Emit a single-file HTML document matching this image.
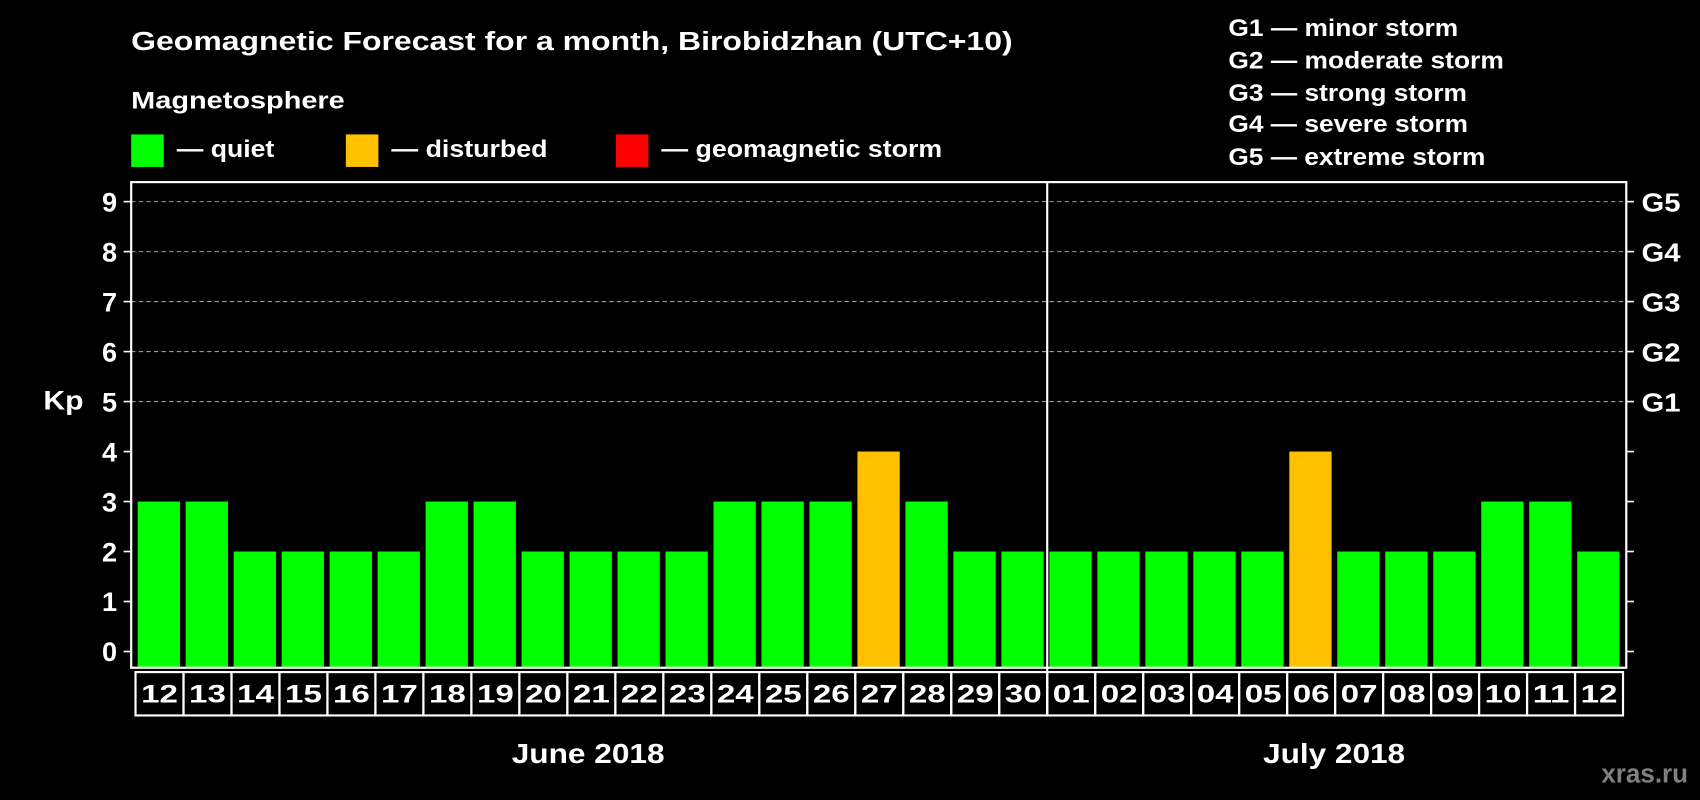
<!DOCTYPE html>
<html><head><meta charset="utf-8"><style>
html,body{margin:0;padding:0;background:#000;}
svg{display:block;}
text{font-family:"Liberation Sans",Arial,sans-serif;font-weight:bold;fill:#fff;}
</style></head><body>
<svg id="chart" width="1700" height="800" viewBox="0 0 1568 738" preserveAspectRatio="none" xmlns="http://www.w3.org/2000/svg">
<rect x="0" y="0" width="1568" height="738" fill="#000"/>
<text x="121" y="46" font-size="24" textLength="813" lengthAdjust="spacingAndGlyphs">Geomagnetic Forecast for a month, Birobidzhan (UTC+10)</text>
<text x="121" y="100" font-size="22" textLength="197" lengthAdjust="spacingAndGlyphs">Magnetosphere</text>
<g><rect x="121" y="124" width="30" height="30" fill="#00ff00"/><text x="163" y="145" font-size="22" textLength="90" lengthAdjust="spacingAndGlyphs">— quiet</text></g>
<g><rect x="319" y="124" width="30" height="30" fill="#ffc000"/><text x="361" y="145" font-size="22" textLength="144" lengthAdjust="spacingAndGlyphs">— disturbed</text></g>
<g><rect x="568" y="124" width="30" height="30" fill="#ff0000"/><text x="610" y="145" font-size="22" textLength="259" lengthAdjust="spacingAndGlyphs">— geomagnetic storm</text></g>
<g font-size="22">
<text x="1133" y="33" textLength="212" lengthAdjust="spacingAndGlyphs">G1 — minor storm</text>
<text x="1133" y="63" textLength="254" lengthAdjust="spacingAndGlyphs">G2 — moderate storm</text>
<text x="1133" y="93" textLength="220" lengthAdjust="spacingAndGlyphs">G3 — strong storm</text>
<text x="1133" y="122" textLength="221" lengthAdjust="spacingAndGlyphs">G4 — severe storm</text>
<text x="1133" y="152" textLength="237" lengthAdjust="spacingAndGlyphs">G5 — extreme storm</text>
</g>
<text x="40" y="378" font-size="25" textLength="37" lengthAdjust="spacingAndGlyphs">Kp</text>
<g id="grid"></g>
<g id="bars"></g>
<g id="axes"></g>
<text x="472" y="704" font-size="26" textLength="141" lengthAdjust="spacingAndGlyphs">June 2018</text>
<text x="1165" y="704" font-size="26" textLength="131" lengthAdjust="spacingAndGlyphs">July 2018</text>
<text x="1557" y="722" font-size="24" text-anchor="end" style="fill:#808080">xras.ru</text>
</svg>
<script>
const days = ["12","13","14","15","16","17","18","19","20","21","22","23","24","25","26","27","28","29","30","01","02","03","04","05","06","07","08","09","10","11","12"];
const kpValues = [3,3,2,2,2,2,3,3,2,2,2,2,3,3,3,4,3,2,2,2,2,2,2,2,4,2,2,2,3,3,2];
const yTicks = [0,1,2,3,4,5,6,7,8,9];
const gLabels = ["G1","G2","G3","G4","G5"];
const gLevels = [5,6,7,8,9];

const NS="http://www.w3.org/2000/svg";
const L=121,R=1500,T=168,B=616,Y0=601,UNIT=(601-186)/9;
const n=days.length, X0=125, pitch=(1497-125)/n;
const y=v=>Y0-v*UNIT;
const x=i=>X0+i*pitch;
function mk(tag,attrs,parent){const e=document.createElementNS(NS,tag);for(const k in attrs)e.setAttribute(k,attrs[k]);parent.appendChild(e);return e;}
const grid=document.getElementById('grid'),bars=document.getElementById('bars'),axes=document.getElementById('axes');
gLevels.forEach((lv,i)=>{
  const ln=mk('line',{x1:L,x2:R,y1:y(lv),y2:y(lv),stroke:'#999','stroke-width':1,'stroke-dasharray':'4,3'},grid);
  
  
  const t=mk('text',{x:1514,y:y(lv)+9,'font-size':24,textLength:36,lengthAdjust:'spacingAndGlyphs'},axes);t.textContent=gLabels[i];
  
  
});
kpValues.forEach((v,i)=>{
  const col=v>=5?'#ff0000':(v>=4?'#ffc000':'#00ff00');
  const r=mk('rect',{x:x(i)+2,y:y(v),width:39,height:B-y(v),fill:col},bars);
  
  
});
const frame=mk('rect',{x:L,y:T,width:R-L,height:B-T,fill:'none',stroke:'#fff','stroke-width':2},axes);


yTicks.forEach(v=>{
  mk('line',{x1:L-7,x2:L,y1:y(v),y2:y(v),stroke:'#fff','stroke-width':1.5},axes);
  mk('line',{x1:R,x2:R+7,y1:y(v),y2:y(v),stroke:'#fff','stroke-width':1.5},axes);
  const t=mk('text',{x:108,y:y(v)+9,'font-size':25,'text-anchor':'end'},axes);t.textContent=v;
  
  
});
days.forEach((d,i)=>{
  const c=mk('rect',{x:x(i),y:620,width:pitch,height:40,fill:'none',stroke:'#fff','stroke-width':2},axes);
  
  
  const t=mk('text',{x:x(i)+pitch/2,y:648,'font-size':23,'text-anchor':'middle',textLength:34,lengthAdjust:'spacingAndGlyphs'},axes);t.textContent=d;
  
  
});
const sepIdx=days.indexOf("01");
const sep=mk('line',{x1:x(sepIdx),x2:x(sepIdx),y1:T,y2:660,stroke:'#fff','stroke-width':2},axes);


</script>
</body></html>
